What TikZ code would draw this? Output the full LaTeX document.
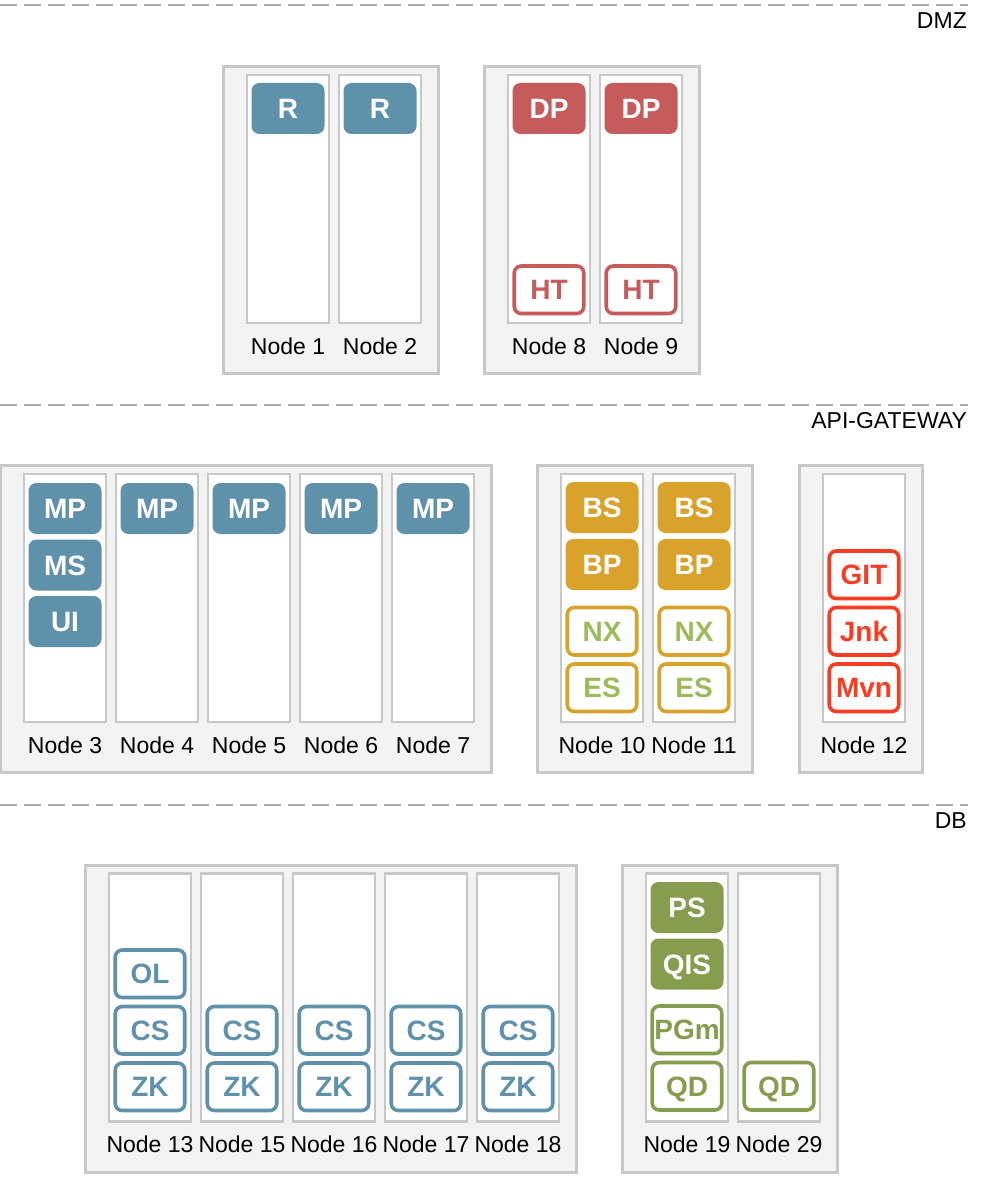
\documentclass[tikz,border=0pt]{standalone}
\usepackage{fontspec}
\setmainfont{Liberation Sans}
\usetikzlibrary{positioning,calc,backgrounds}

\definecolor{rackgray}{HTML}{C8C8C8}
\definecolor{rackfill}{HTML}{F3F3F3}
\definecolor{zonegray}{HTML}{AAAAAA}
\definecolor{svcblue}{HTML}{5F91AB}
\definecolor{svcred}{HTML}{C55B5B}
\definecolor{svcgold}{HTML}{D9A22B}
\definecolor{svcgreen}{HTML}{9BBB59}
\definecolor{svcolive}{HTML}{869D50}
\definecolor{svcorange}{HTML}{FA3C22}

\newcommand{\hostgroup}[2]{\draw[group] ($(#1.north west)+(-23.5,-8.5)$) rectangle ($(#2.south east)+(17.5,50.5)$);}

\tikzset{
 host/.style={draw=rackgray, line width=2.8pt, fill=white, minimum width=82pt, minimum height=248pt, inner sep=0pt, outer sep=0pt},
 hostlbl/.style={font=\fontsize{23}{27}\selectfont, text height=16.5pt, text depth=0pt, inner sep=0pt, outer sep=0pt},
 group/.style={draw=rackgray, line width=3pt, fill=rackfill},
 zone/.style={draw=zonegray, line width=2pt, dash pattern=on 17pt off 7pt},
 zonelbl/.style={font=\fontsize{23}{27}\selectfont, inner sep=0pt, anchor=east},
 svc/.style={fill=#1, text=white, rounded corners=8pt, minimum width=73pt, minimum height=51pt, inner sep=0pt, outer sep=0pt, font=\fontsize{28}{32}\selectfont\bfseries, text height=20pt, text depth=0pt},
 osvc/.style={svc=white, draw=#1, text=#1, line width=3.6pt, rounded corners=7pt, minimum width=69.5pt, minimum height=47.5pt},
}

\begin{document}
\begin{tikzpicture}[x=1pt, y=-1pt]
\useasboundingbox (0,0) rectangle (1000,1182);

% zones
\coordinate (dmzl) at (0,5); \coordinate (dmzr) at (968,5);
\coordinate (apil) at (0,405); \coordinate (apir) at (968,405);
\coordinate (dbl) at (0,805); \coordinate (dbr) at (968,805);
\draw[zone] (dmzl) -- (dmzr);
\draw[zone] (apil) -- (apir);
\draw[zone] (dbl) -- (dbr);
\node[zonelbl] (dmz) at (967,21) {DMZ};
\node[zonelbl] (api) at (967,421) {API-GATEWAY};
\node[zonelbl] (db) at (967,821) {DB};

% hosts
\foreach \n/\x in {1/288,2/380,8/549,9/641} {
 \node[host] (host\n) at (\x,199) {};
 \node[hostlbl, below=14.5pt of host\n] (lbl\n) {Node \n};
}
\foreach \n/\x in {3/65,4/157,5/249,6/341,7/433,10/602,11/694,12/864} {
 \node[host] (host\n) at (\x,598) {};
 \node[hostlbl, below=14.5pt of host\n] (lbl\n) {Node \n};
}
\foreach \n/\x in {13/150,15/242,16/334,17/426,18/518,19/687,29/779} {
 \node[host] (host\n) at (\x,997.5) {};
 \node[hostlbl, below=14pt of host\n] (lbl\n) {Node \n};
}

% groups
\begin{scope}[on background layer]
 \hostgroup{host1}{host2}
 \hostgroup{host8}{host9}
 \hostgroup{host3}{host7}
 \hostgroup{host10}{host11}
 \hostgroup{host12}{host12}
 \hostgroup{host13}{host18}
 \hostgroup{host19}{host29}
\end{scope}

% dmz services
\node[svc=svcblue, below=8pt of host1.north] (r1) {R};
\node[svc=svcblue, below=8pt of host2.north] (r2) {R};
\foreach \n in {8,9} {
 \node[svc=svcred, below=8pt of host\n.north] (dp\n) {DP};
 \node[osvc=svcred, above=9.5pt of host\n.south] (ht\n) {HT};
}

% api services
\node[svc=svcblue, below=9pt of host3.north] (mp3) {MP};
\node[svc=svcblue, below=5.5pt of mp3] (ms3) {MS};
\node[svc=svcblue, below=5.5pt of ms3] (ui3) {UI};
\foreach \n in {4,...,7}
 \node[svc=svcblue, below=9pt of host\n.north] (mp\n) {MP};
\foreach \n in {10,11} {
 \node[svc=svcgold, below=8pt of host\n.north] (bs\n) {BS};
 \node[svc=svcgold, below=6pt of bs\n] (bp\n) {BP};
 \node[osvc=svcgold, text=svcgreen, above=10.5pt of host\n.south] (es\n) {ES};
 \node[osvc=svcgold, text=svcgreen, above=9pt of es\n] (nx\n) {NX};
}
\node[osvc=svcorange, above=10.5pt of host12.south] (mvn12) {Mvn};
\node[osvc=svcorange, above=9pt of mvn12] (jnk12) {Jnk};
\node[osvc=svcorange, above=9pt of jnk12] (git12) {GIT};

% db services
\foreach \n in {13,15,16,17,18} {
 \node[osvc=svcblue, above=11pt of host\n.south] (zk\n) {ZK};
 \node[osvc=svcblue, above=9pt of zk\n] (cs\n) {CS};
}
\node[osvc=svcblue, above=9pt of cs13] (ol13) {OL};
\node[svc=svcolive, below=8.5pt of host19.north] (ps19) {PS};
\node[svc=svcolive, below=5.5pt of ps19] (qis19) {QIS};
\node[osvc=svcolive, above=11.5pt of host19.south] (qd19) {QD};
\node[osvc=svcolive, above=9pt of qd19] (pgm19) {PGm};
\node[osvc=svcolive, above=11.5pt of host29.south] (qd29) {QD};

\end{tikzpicture}
\end{document}
